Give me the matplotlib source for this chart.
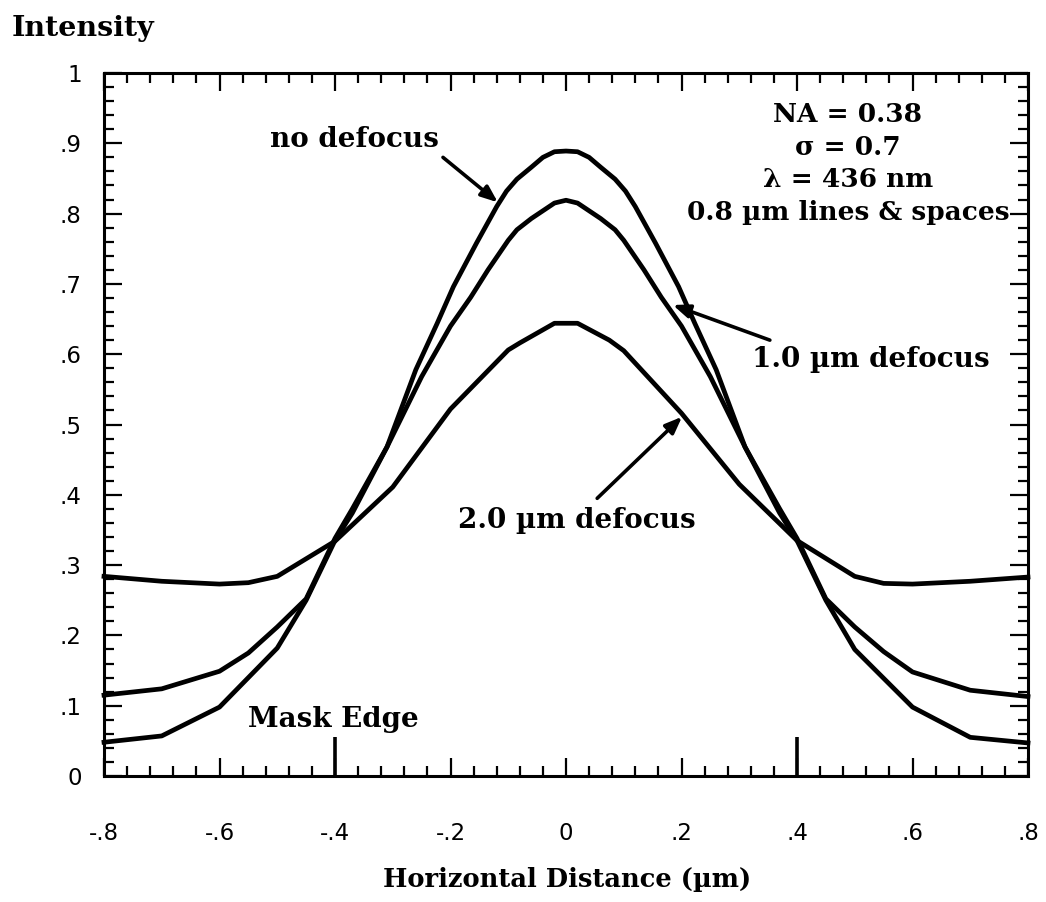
import numpy as np
import matplotlib
matplotlib.use("Agg")
import matplotlib.pyplot as plt
from matplotlib.ticker import MultipleLocator

# curve nodes (symmetric profiles)
x_nodef = [-0.8, -0.7, -0.6, -0.5, -0.45, -0.4, -0.37, -0.31, -0.26, -0.223, -0.195, -0.155,
           -0.12, -0.103, -0.085, -0.06, -0.04, -0.02, 0.0, 0.02, 0.04, 0.06, 0.085, 0.103, 0.12,
           0.155, 0.195, 0.223, 0.26, 0.31, 0.37, 0.4, 0.45, 0.5, 0.6, 0.7, 0.8]
y_nodef = [0.048, 0.057, 0.098, 0.182, 0.25, 0.335, 0.374, 0.468, 0.578, 0.644, 0.696, 0.758,
           0.81, 0.832, 0.849, 0.866, 0.88, 0.888, 0.889, 0.888, 0.88, 0.866, 0.849, 0.832, 0.81,
           0.758, 0.696, 0.644, 0.578, 0.468, 0.374, 0.335, 0.25, 0.18, 0.098, 0.055, 0.047]

x_1um = [-0.8, -0.7, -0.6, -0.55, -0.5, -0.45, -0.4, -0.37, -0.31, -0.25, -0.2, -0.165, -0.135,
         -0.1, -0.085, -0.06, -0.02, 0.0, 0.02, 0.06, 0.085, 0.1, 0.135, 0.165, 0.2, 0.25, 0.31,
         0.37, 0.4, 0.45, 0.5, 0.55, 0.6, 0.7, 0.8]
y_1um = [0.115, 0.124, 0.149, 0.175, 0.212, 0.252, 0.338, 0.38, 0.468, 0.568, 0.64, 0.681, 0.72,
         0.762, 0.777, 0.793, 0.815, 0.819, 0.815, 0.793, 0.777, 0.762, 0.72, 0.681, 0.64, 0.568,
         0.468, 0.38, 0.338, 0.252, 0.212, 0.177, 0.148, 0.122, 0.113]

x_2um = [-0.8, -0.7, -0.6, -0.55, -0.5, -0.4, -0.3, -0.2, -0.1, -0.08, -0.02, 0.02, 0.075, 0.1,
         0.2, 0.3, 0.4, 0.5, 0.55, 0.6, 0.7, 0.8]
y_2um = [0.284, 0.277, 0.273, 0.275, 0.284, 0.334, 0.411, 0.522, 0.606, 0.616, 0.644, 0.644,
         0.62, 0.605, 0.516, 0.415, 0.335, 0.284, 0.274, 0.273, 0.277, 0.283]

x_ticks = [-0.8, -0.6, -0.4, -0.2, 0.0, 0.2, 0.4, 0.6, 0.8]
x_labels = ["-.8", "-.6", "-.4", "-.2", "0", ".2", ".4", ".6", ".8"]
y_ticks = [0, 0.1, 0.2, 0.3, 0.4, 0.5, 0.6, 0.7, 0.8, 0.9, 1.0]
y_labels = ["0", ".1", ".2", ".3", ".4", ".5", ".6", ".7", ".8", ".9", "1"]
mask_edges = [-0.4, 0.4]

serif = "DejaVu Serif"
sans = "DejaVu Sans"

fig = plt.figure(figsize=(10.46, 9.02), dpi=100)
ax = fig.add_axes([104 / 1046, 1 - 776 / 902, 924 / 1046, 703 / 902])

for xs, ys in [(x_nodef, y_nodef), (x_1um, y_1um), (x_2um, y_2um)]:
    ax.plot(xs, ys, color="black", lw=3.4, solid_joinstyle="round", clip_on=False)

ax.vlines(mask_edges, 0, 0.055, color="black", lw=2.6)

ax.set_xlim(-0.8, 0.8)
ax.set_ylim(0, 1)
ax.set_xticks(x_ticks)
ax.set_xticklabels(x_labels)
ax.set_yticks(y_ticks)
ax.set_yticklabels(y_labels)
ax.xaxis.set_minor_locator(MultipleLocator(0.04))
ax.yaxis.set_minor_locator(MultipleLocator(0.02))
ax.tick_params(which="both", direction="in", top=True, right=True, width=1.6, color="black")
ax.tick_params(which="major", length=13)
ax.tick_params(which="minor", length=7)
ax.tick_params(axis="x", which="major", pad=33)
ax.tick_params(axis="y", which="major", pad=16)
for lab in ax.get_xticklabels() + ax.get_yticklabels():
    lab.set_fontfamily(sans)
    lab.set_fontsize(16.5)
for sp in ax.spines.values():
    sp.set_linewidth(2.2)

fig.text(12 / 1046, 1 - 28 / 902, "Intensity", family=serif, weight="bold", fontsize=20.5,
         ha="left", va="center")
fig.text(567 / 1046, 1 - 880 / 902, "Horizontal Distance (µm)", family=serif, weight="bold",
         fontsize=18.5, ha="center", va="center")

ax.text(0.488, 0.871, "NA = 0.38\nσ = 0.7\nλ = 436 nm\n0.8 µm lines & spaces",
        family=serif, weight="bold", fontsize=19, ha="center", va="center",
        multialignment="center", linespacing=1.38)

lab_kw = dict(family=serif, weight="bold", fontsize=20, va="center")
ax.text(-0.367, 0.905, "no defocus", ha="center", **lab_kw)
ax.text(0.528, 0.592, "1.0 µm defocus", ha="center", **lab_kw)
ax.text(0.019, 0.364, "2.0 µm defocus", ha="center", **lab_kw)
ax.text(-0.551, 0.080, "Mask Edge", ha="left", **lab_kw)

arrow = dict(arrowstyle="-|>,head_length=1.0,head_width=0.4", color="black", lw=2.6,
             shrinkA=0, shrinkB=0)
ax.annotate("", xy=(-0.118, 0.816), xytext=(-0.213, 0.880), arrowprops=arrow)
ax.annotate("", xy=(0.185, 0.670), xytext=(0.353, 0.620), arrowprops=arrow)
ax.annotate("", xy=(0.201, 0.511), xytext=(0.054, 0.395), arrowprops=arrow)

fig.savefig("out.png", dpi=100, facecolor="white")
